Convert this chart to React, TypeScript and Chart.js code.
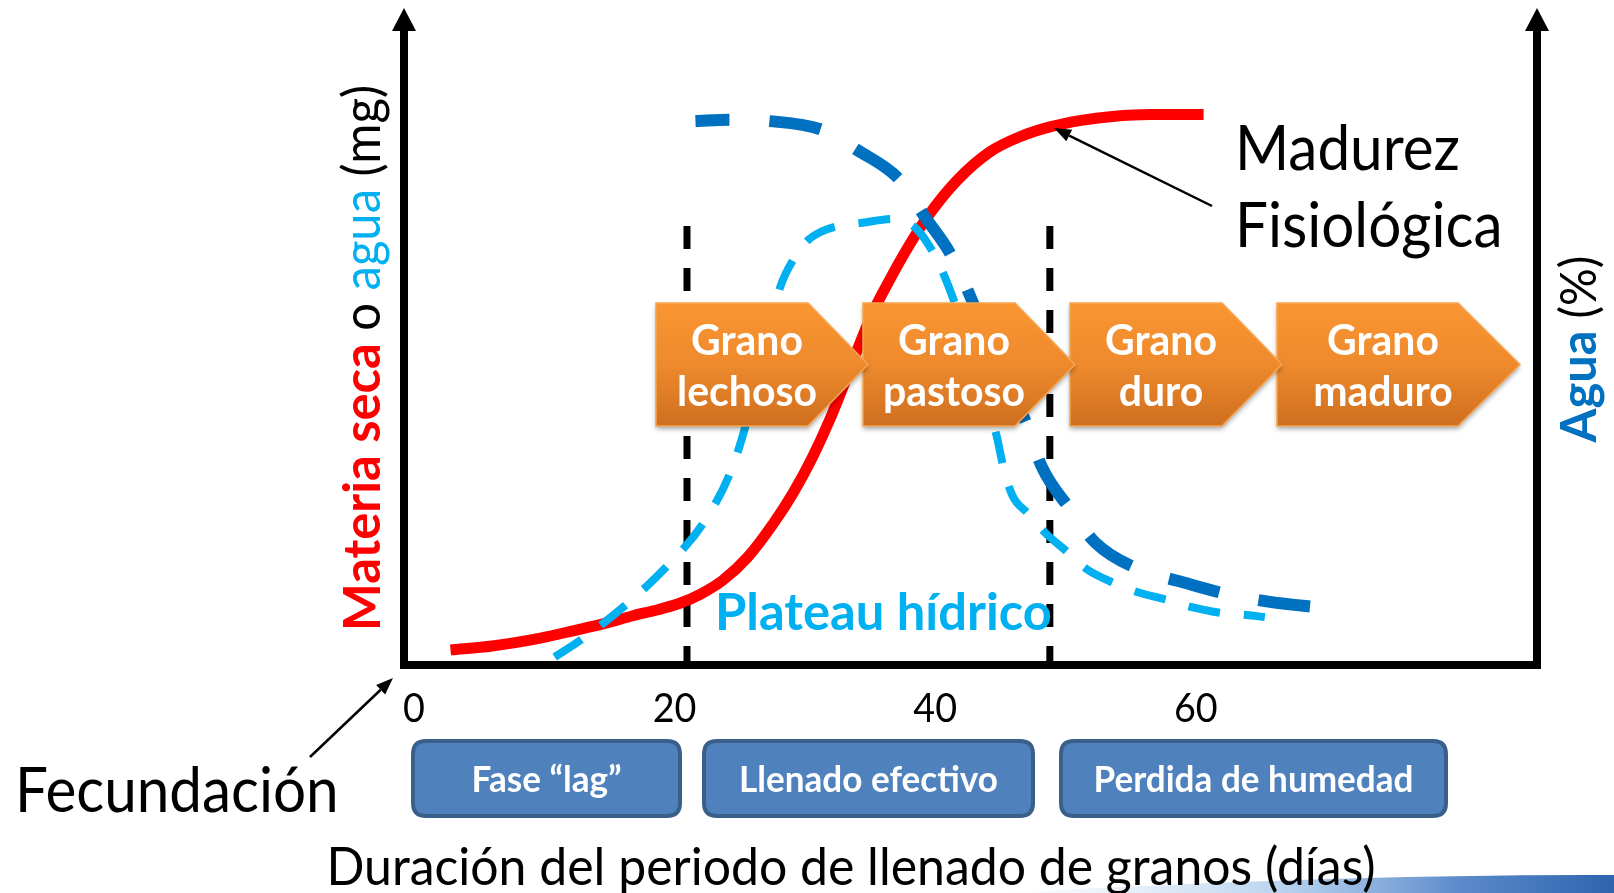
import React, { useEffect, useRef } from 'react';
import { Chart, registerables } from 'chart.js';

Chart.register(...registerables);

// ---------------- DATA ----------------
const xTicks = [0, 20, 40, 60];

// Materia seca (mg) - red solid
const dryDays = [2.8, 6.0, 9.7, 12.2, 14.8, 16.8, 18.7, 20.4, 22.0, 23.7, 25.6, 27.6, 29.1, 30.6, 31.9, 35.2, 36.5, 37.8, 39.4, 41.7, 44.2, 46.5, 48.8, 51.2, 53.6, 56.5, 60.6];
const dryValues = [2.3, 2.9, 4.1, 5.2, 6.4, 7.5, 8.4, 9.4, 10.8, 12.9, 16.4, 21.6, 26.2, 31.7, 37.3, 53.6, 58.6, 63.2, 68.2, 73.8, 78.1, 80.4, 81.9, 82.9, 83.5, 83.8, 83.8];

// Agua (%) - dark blue long dash
const waterPctDays = [21.6, 24.2, 27.2, 31.4, 34.0, 37.3, 39.1, 41.3, 44.1, 47.0, 48.2, 50.4, 52.3, 55.7, 59.0, 62.6, 65.7, 69.8];
const waterPctValues = [82.8, 83.0, 82.8, 81.4, 78.4, 73.8, 68.5, 62.1, 49.5, 36.7, 30.1, 23.6, 18.6, 14.5, 12.6, 10.7, 9.6, 8.7];

// Agua (mg) - light blue dash
const waterMgDays = [10.8, 13.0, 16.4, 19.5, 22.2, 24.3, 25.4, 28.1, 29.2, 30.2, 31.3, 32.5, 34.4, 36.7, 38.5, 39.6, 40.6, 41.5, 44.7, 45.2, 45.9, 47.1, 48.4, 50.2, 51.7, 53.7, 55.5, 57.8, 59.7, 62.0, 63.9, 65.3];
const waterMgValues = [1.2, 4.1, 9.4, 15.2, 21.6, 29.4, 36.1, 57.5, 62.0, 64.6, 66.0, 66.8, 67.3, 67.9, 66.5, 63.6, 59.7, 55.1, 35.0, 30.4, 25.9, 23.1, 20.2, 17.1, 14.5, 12.5, 11.1, 9.9, 8.8, 7.9, 7.6, 7.3];

const phaseBoundaries = [20.95, 48.8];
const phaseLineTop = 66.8;

const stageLabels = [['Grano', 'lechoso'], ['Grano', 'pastoso'], ['Grano', 'duro'], ['Grano', 'maduro']];
const phaseLabels = ['Fase “lag”', 'Llenado efectivo', 'Perdida de humedad'];
const xTitle = 'Duración del periodo de llenado de granos (días)';

// ---------------- LAYOUT ----------------
const W = 1614;
const H = 893;
const AREA = { left: 404, right: 1537, top: 8, bottom: 665 };
const X_MIN = -0.77;
const X_MAX = 86.19;
const stageBoxes = [
  { left: 656, body: 808, tip: 868 },
  { left: 863, body: 1015, tip: 1075 },
  { left: 1070, body: 1222, tip: 1282 },
  { left: 1277, body: 1458, tip: 1520 },
];
const STAGE_TOP = 303;
const STAGE_BOTTOM = 426;
const phaseBoxes = [
  { l: 413, r: 680 },
  { l: 704, r: 1033 },
  { l: 1061, r: 1446 },
];
const PHASE_TOP = 741;
const PHASE_BOTTOM = 816;

const FONT = 'Lato, "Noto Sans", sans-serif';

type Run = { text: string; size: number; bold?: boolean; color: string };

let condR = 1;
let condB = 1;

function fontOf(r: Run) {
  return `${r.bold ? 'bold ' : ''}${r.size}px ${FONT}`;
}
function runW(ctx: CanvasRenderingContext2D, r: Run) {
  ctx.font = fontOf(r);
  return ctx.measureText(r.text).width * (r.bold ? condB : condR);
}
function drawRuns(ctx: CanvasRenderingContext2D, runs: Run[], x: number, y: number, align: 'left' | 'center' | 'right') {
  const total = runs.reduce((s, r) => s + runW(ctx, r), 0);
  let pos = align === 'center' ? x - total / 2 : align === 'right' ? x - total : x;
  for (const r of runs) {
    const w = runW(ctx, r);
    ctx.save();
    ctx.translate(pos, y);
    ctx.scale(r.bold ? condB : condR, 1);
    ctx.font = fontOf(r);
    ctx.fillStyle = r.color;
    ctx.textAlign = 'left';
    ctx.textBaseline = 'alphabetic';
    ctx.fillText(r.text, 0, 0);
    ctx.restore();
    pos += w;
  }
}

function arrow(ctx: CanvasRenderingContext2D, x1: number, y1: number, x2: number, y2: number, lw: number, headLen: number, headW: number) {
  const ang = Math.atan2(y2 - y1, x2 - x1);
  const bx = x2 - Math.cos(ang) * headLen;
  const by = y2 - Math.sin(ang) * headLen;
  ctx.save();
  ctx.strokeStyle = '#000';
  ctx.fillStyle = '#000';
  ctx.lineWidth = lw;
  ctx.setLineDash([]);
  ctx.beginPath();
  ctx.moveTo(x1, y1);
  ctx.lineTo(bx, by);
  ctx.stroke();
  ctx.beginPath();
  ctx.moveTo(x2, y2);
  ctx.lineTo(bx + Math.sin(ang) * headW / 2, by - Math.cos(ang) * headW / 2);
  ctx.lineTo(bx - Math.sin(ang) * headW / 2, by + Math.cos(ang) * headW / 2);
  ctx.closePath();
  ctx.fill();
  ctx.restore();
}

function roundRect(ctx: CanvasRenderingContext2D, x: number, y: number, w: number, h: number, r: number) {
  ctx.beginPath();
  ctx.moveTo(x + r, y);
  ctx.lineTo(x + w - r, y);
  ctx.quadraticCurveTo(x + w, y, x + w, y + r);
  ctx.lineTo(x + w, y + h - r);
  ctx.quadraticCurveTo(x + w, y + h, x + w - r, y + h);
  ctx.lineTo(x + r, y + h);
  ctx.quadraticCurveTo(x, y + h, x, y + h - r);
  ctx.lineTo(x, y + r);
  ctx.quadraticCurveTo(x, y, x + r, y);
  ctx.closePath();
}

const decorPlugin = {
  id: 'decor',
  beforeDatasetsDraw(chart: any) {
    const ctx: CanvasRenderingContext2D = chart.ctx;
    const xs = chart.scales.x;
    const ys = chart.scales.y;
    ctx.save();
    ctx.strokeStyle = '#000';
    ctx.lineWidth = 7;
    ctx.setLineDash([23, 19]);
    for (const d of phaseBoundaries) {
      const px = xs.getPixelForValue(d);
      ctx.beginPath();
      ctx.moveTo(px, ys.getPixelForValue(phaseLineTop));
      ctx.lineTo(px, chart.chartArea.bottom);
      ctx.stroke();
    }
    ctx.restore();
  },
  afterDatasetsDraw(chart: any) {
    const ctx: CanvasRenderingContext2D = chart.ctx;
    const xs = chart.scales.x;
    const ca = chart.chartArea;

    // condensation factors to mimic the narrow original face
    ctx.font = `53px ${FONT}`;
    condR = 1049 / ctx.measureText(xTitle).width;
    ctx.font = `bold 36px ${FONT}`;
    condB = 320 / ctx.measureText('Perdida de humedad').width;

    ctx.save();

    // slide swoosh bottom-right (behind text)
    const sg = ctx.createLinearGradient(1000, 0, 1614, 0);
    sg.addColorStop(0, 'rgba(200,222,242,0)');
    sg.addColorStop(0.45, 'rgba(170,202,235,0.8)');
    sg.addColorStop(0.75, '#5B8ACB');
    sg.addColorStop(1, '#2F64AE');
    ctx.fillStyle = sg;
    ctx.beginPath();
    ctx.moveTo(1000, 893);
    ctx.quadraticCurveTo(1350, 874, 1614, 875);
    ctx.lineTo(1614, 893);
    ctx.closePath();
    ctx.fill();

    // stage pentagons (drawn right to left so tips overlap)
    for (let i = stageBoxes.length - 1; i >= 0; i--) {
      const b = stageBoxes[i];
      const mid = (STAGE_TOP + STAGE_BOTTOM) / 2;
      const g = ctx.createLinearGradient(0, STAGE_TOP, 0, STAGE_BOTTOM);
      g.addColorStop(0, '#FA9532');
      g.addColorStop(0.5, '#EE8A2D');
      g.addColorStop(1, '#CE6E1F');
      ctx.save();
      ctx.shadowColor = 'rgba(0,0,0,0.35)';
      ctx.shadowBlur = 5;
      ctx.shadowOffsetY = 3;
      ctx.beginPath();
      ctx.moveTo(b.left, STAGE_TOP);
      ctx.lineTo(b.body, STAGE_TOP);
      ctx.lineTo(b.tip, mid);
      ctx.lineTo(b.body, STAGE_BOTTOM);
      ctx.lineTo(b.left, STAGE_BOTTOM);
      ctx.closePath();
      ctx.fillStyle = g;
      ctx.fill();
      ctx.restore();
      ctx.strokeStyle = '#F7A550';
      ctx.lineWidth = 1.5;
      ctx.stroke();
      const cx = (b.left + b.body) / 2 + (b.tip - b.body) / 4;
      drawRuns(ctx, [{ text: stageLabels[i][0], size: 42, bold: true, color: '#fff' }], cx, 355, 'center');
      drawRuns(ctx, [{ text: stageLabels[i][1], size: 42, bold: true, color: '#fff' }], cx, 406, 'center');
    }

    // axes
    ctx.strokeStyle = '#000';
    ctx.fillStyle = '#000';
    ctx.lineWidth = 8;
    ctx.setLineDash([]);
    ctx.lineCap = 'butt';
    ctx.beginPath();
    ctx.moveTo(ca.left, 28);
    ctx.lineTo(ca.left, ca.bottom + 4);
    ctx.moveTo(ca.left - 4, ca.bottom);
    ctx.lineTo(ca.right + 4, ca.bottom);
    ctx.moveTo(ca.right, 28);
    ctx.lineTo(ca.right, ca.bottom + 4);
    ctx.stroke();
    for (const ax of [ca.left, ca.right]) {
      ctx.beginPath();
      ctx.moveTo(ax, ca.top);
      ctx.lineTo(ax - 12, 31);
      ctx.lineTo(ax + 12, 31);
      ctx.closePath();
      ctx.fill();
    }

    // tick labels
    for (const t of xTicks) {
      drawRuns(ctx, [{ text: String(t), size: 40, color: '#000' }], xs.getPixelForValue(t), 722, 'center');
    }

    // Plateau hídrico
    drawRuns(ctx, [{ text: 'Plateau hídrico', size: 52, bold: true, color: '#00B0F0' }], 715, 630, 'left');

    // phase boxes
    for (let i = 0; i < phaseBoxes.length; i++) {
      const b = phaseBoxes[i];
      roundRect(ctx, b.l, PHASE_TOP, b.r - b.l, PHASE_BOTTOM - PHASE_TOP, 13);
      ctx.fillStyle = '#4F81BD';
      ctx.fill();
      ctx.strokeStyle = '#3A5F8B';
      ctx.lineWidth = 4;
      ctx.stroke();
      drawRuns(ctx, [{ text: phaseLabels[i], size: 36, bold: true, color: '#fff' }], (b.l + b.r) / 2, 792, 'center');
    }

    // annotations
    drawRuns(ctx, [{ text: 'Madurez', size: 62, color: '#000' }], 1235, 170, 'left');
    drawRuns(ctx, [{ text: 'Fisiológica', size: 62, color: '#000' }], 1235, 247, 'left');
    arrow(ctx, 1212, 206, 1054, 128, 2.5, 17, 13);

    drawRuns(ctx, [{ text: 'Fecundación', size: 62, color: '#000' }], 15, 812, 'left');
    arrow(ctx, 310, 757, 393, 678, 2.5, 17, 13);

    // x title
    drawRuns(ctx, [{ text: xTitle, size: 53, color: '#000' }], 851, 885, 'center');

    // y titles
    ctx.save();
    ctx.translate(380, 358);
    ctx.rotate(-Math.PI / 2);
    drawRuns(ctx, [
      { text: 'Materia seca', size: 52, bold: true, color: '#FF0000' },
      { text: ' o ', size: 52, color: '#000' },
      { text: 'agua', size: 52, color: '#00B0F0' },
      { text: ' (mg)', size: 52, color: '#000' },
    ], 0, 0, 'center');
    ctx.restore();

    ctx.save();
    ctx.translate(1596, 349);
    ctx.rotate(-Math.PI / 2);
    drawRuns(ctx, [
      { text: 'Agua', size: 50, bold: true, color: '#0070C0' },
      { text: ' (%)', size: 50, color: '#000' },
    ], 0, 0, 'center');
    ctx.restore();

    ctx.restore();
  },
};

function toPoints(xs: number[], ys: number[]) {
  return xs.map((x, i) => ({ x, y: ys[i] }));
}

export default function App() {
  const ref = useRef<HTMLCanvasElement | null>(null);
  useEffect(() => {
    document.body.style.margin = '0';
    document.body.style.overflow = 'hidden';
    const canvas = ref.current;
    if (!canvas) return;
    const chart = new Chart(canvas, {
      type: 'line',
      data: {
        datasets: [
          {
            label: 'Agua (%)',
            data: toPoints(waterPctDays, waterPctValues),
            borderColor: '#0070C0',
            borderWidth: 12,
            borderDash: [52, 40],
            borderDashOffset: 18,
            borderCapStyle: 'butt',
            pointRadius: 0,
            cubicInterpolationMode: 'monotone',
            fill: false,
            order: 0,
          },
          {
            label: 'Agua (mg)',
            data: toPoints(waterMgDays, waterMgValues),
            borderColor: '#00B0F0',
            borderWidth: 8,
            borderDash: [32, 24],
            borderCapStyle: 'butt',
            pointRadius: 0,
            cubicInterpolationMode: 'monotone',
            fill: false,
            order: 1,
          },
          {
            label: 'Materia seca (mg)',
            data: toPoints(dryDays, dryValues),
            borderColor: '#FF0000',
            borderWidth: 11,
            borderCapStyle: 'butt',
            pointRadius: 0,
            cubicInterpolationMode: 'monotone',
            fill: false,
            order: 2,
          },
        ],
      },
      options: {
        responsive: false,
        animation: false,
        devicePixelRatio: 1,
        layout: {
          padding: { left: AREA.left, right: W - AREA.right, top: AREA.top, bottom: H - AREA.bottom },
        },
        plugins: { legend: { display: false }, tooltip: { enabled: false }, title: { display: false } },
        scales: {
          x: { type: 'linear', min: X_MIN, max: X_MAX, display: false },
          y: { type: 'linear', min: 0, max: 100, display: false },
        },
        events: [],
      },
      plugins: [decorPlugin],
    } as any);
    return () => chart.destroy();
  }, []);
  return (
    <div style={{ width: W, height: H, background: '#fff' }}>
      <canvas ref={ref} width={W} height={H} style={{ display: 'block' }} />
    </div>
  );
}
